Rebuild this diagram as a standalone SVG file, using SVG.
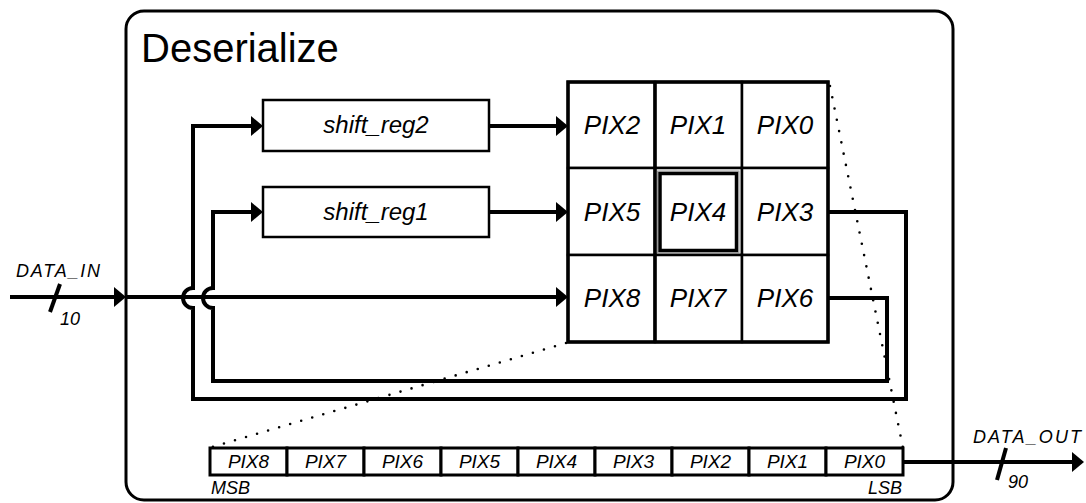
<svg xmlns="http://www.w3.org/2000/svg" width="1086" height="503" viewBox="0 0 1086 503">
  <defs>
    <marker id="arrow" markerUnits="userSpaceOnUse" markerWidth="12" markerHeight="20" refX="6" refY="10" orient="auto">
      <path d="M0,0 L12,10 L0,20 z" fill="#000"/>
    </marker>
    <style>
      text { font-family: "Liberation Sans", Arial, sans-serif; fill: #000; }
      .lbl { font-style: italic; }
      .cell { fill: #fff; stroke: #000; stroke-width: 2.5; }
      .bit { fill: #fff; stroke: #000; stroke-width: 3; }
      .box { fill: #fff; stroke: #000; stroke-width: 2.5; }
      .wire { fill: none; stroke: #000; stroke-width: 4; }
      .dots { fill: none; stroke: #000; stroke-width: 2.6; stroke-linecap: round; stroke-dasharray: 0 11.5; }
      .g26 { font-size: 26px; }
      .g24 { font-size: 24px; }
      .g19 { font-size: 19px; }
      .g18 { font-size: 18px; }
    </style>
  </defs>
  <rect width="1086" height="503" fill="#fff"/>

  <!-- module outline -->
  <g id="deserialize">
    <rect x="126" y="11" width="827" height="489" rx="18" ry="18" fill="none" stroke="#000" stroke-width="3"/>
    <text x="141" y="62" font-size="40">Deserialize</text>
  </g>

  <!-- connectors -->
  <g id="connectors">
    <!-- serial input -->
    <path class="wire" d="M10,297 H120" marker-end="url(#arrow)"/>
    <path d="M50,312 L60,284" stroke="#000" stroke-width="4"/>
    <path class="wire" d="M126,297 H562" marker-end="url(#arrow)"/>
    <!-- feedback into shift_reg2 (from PIX3) -->
    <path class="wire" d="M828,212 H906 V399 H193 V308 A10,10 0 0 1 193,288 V126 H257" marker-end="url(#arrow)"/>
    <!-- feedback into shift_reg1 (from PIX6) -->
    <path class="wire" d="M828,298 H887 V381 H213 V308 A10,10 0 0 1 213,288 V212 H257" marker-end="url(#arrow)"/>
    <!-- register outputs into the window -->
    <path class="wire" d="M489,126 H562" marker-end="url(#arrow)"/>
    <path class="wire" d="M489,212 H562" marker-end="url(#arrow)"/>
    <!-- parallel output -->
    <path class="wire" d="M903,462 H1078" marker-end="url(#arrow)"/>
    <path d="M997,480 L1006,448" stroke="#000" stroke-width="4"/>
    <!-- expansion guides -->
    <path class="dots" d="M830,86 L903,448"/>
    <path class="dots" d="M566,343 L212,447"/>
  </g>

  <!-- line shift registers -->
  <g id="shift_reg2">
    <rect class="box" x="263" y="100" width="226" height="51"/>
    <text class="lbl g24" x="376" y="133" text-anchor="middle">shift_reg2</text>
  </g>
  <g id="shift_reg1">
    <rect class="box" x="263" y="187" width="226" height="50"/>
    <text class="lbl g24" x="376" y="220" text-anchor="middle">shift_reg1</text>
  </g>

  <!-- 3x3 pixel window -->
  <g id="window">
    <g id="pix2"><rect class="cell" x="568" y="82" width="87" height="86"/><text class="lbl g26" x="612" y="134" text-anchor="middle">PIX2</text></g>
    <g id="pix1"><rect class="cell" x="655" y="82" width="87" height="86"/><text class="lbl g26" x="698" y="134" text-anchor="middle">PIX1</text></g>
    <g id="pix0"><rect class="cell" x="742" y="82" width="86" height="86"/><text class="lbl g26" x="785" y="134" text-anchor="middle">PIX0</text></g>
    <g id="pix5"><rect class="cell" x="568" y="168" width="87" height="87"/><text class="lbl g26" x="612" y="221" text-anchor="middle">PIX5</text></g>
    <g id="pix4">
      <rect class="cell" x="655" y="168" width="87" height="87"/>
      <rect x="657.5" y="171" width="81.5" height="82" fill="none" stroke="#999" stroke-width="1"/>
      <rect x="660" y="173.5" width="76.5" height="77" fill="none" stroke="#000" stroke-width="3.5"/>
      <text class="lbl g26" x="698" y="221" text-anchor="middle">PIX4</text>
    </g>
    <g id="pix3"><rect class="cell" x="742" y="168" width="86" height="87"/><text class="lbl g26" x="785" y="221" text-anchor="middle">PIX3</text></g>
    <g id="pix8"><rect class="cell" x="568" y="255" width="87" height="87"/><text class="lbl g26" x="612" y="307" text-anchor="middle">PIX8</text></g>
    <g id="pix7"><rect class="cell" x="655" y="255" width="87" height="87"/><text class="lbl g26" x="698" y="307" text-anchor="middle">PIX7</text></g>
    <g id="pix6"><rect class="cell" x="742" y="255" width="86" height="87"/><text class="lbl g26" x="785" y="307" text-anchor="middle">PIX6</text></g>
    <rect x="568" y="82" width="260" height="260" fill="none" stroke="#000" stroke-width="3.5"/>
    <line x1="655" y1="82" x2="655" y2="342" stroke="#000" stroke-width="3.5"/>
  </g>

  <!-- output word -->
  <g id="out_word">
    <rect class="bit" x="210" y="448" width="77" height="27"/><text class="lbl g19" x="248.5" y="468" text-anchor="middle">PIX8</text>
    <rect class="bit" x="287" y="448" width="77" height="27"/><text class="lbl g19" x="325.5" y="468" text-anchor="middle">PIX7</text>
    <rect class="bit" x="364" y="448" width="77" height="27"/><text class="lbl g19" x="402.5" y="468" text-anchor="middle">PIX6</text>
    <rect class="bit" x="441" y="448" width="77" height="27"/><text class="lbl g19" x="479.5" y="468" text-anchor="middle">PIX5</text>
    <rect class="bit" x="518" y="448" width="77" height="27"/><text class="lbl g19" x="556.5" y="468" text-anchor="middle">PIX4</text>
    <rect class="bit" x="595" y="448" width="77" height="27"/><text class="lbl g19" x="633.5" y="468" text-anchor="middle">PIX3</text>
    <rect class="bit" x="672" y="448" width="77" height="27"/><text class="lbl g19" x="710.5" y="468" text-anchor="middle">PIX2</text>
    <rect class="bit" x="749" y="448" width="77" height="27"/><text class="lbl g19" x="787.5" y="468" text-anchor="middle">PIX1</text>
    <rect class="bit" x="826" y="448" width="77" height="27"/><text class="lbl g19" x="864.5" y="468" text-anchor="middle">PIX0</text>
    <text class="lbl g18" x="211" y="494">MSB</text>
    <text class="lbl g18" x="902" y="494" text-anchor="end">LSB</text>
  </g>

  <!-- port labels -->
  <g id="data_in">
    <text class="lbl g18" x="16" y="277" textLength="84" lengthAdjust="spacing">DATA_IN</text>
    <text class="lbl g18" x="60" y="325">10</text>
  </g>
  <g id="data_out">
    <text class="lbl g18" x="973" y="443" textLength="108" lengthAdjust="spacing">DATA_OUT</text>
    <text class="lbl g18" x="1008" y="488">90</text>
  </g>
</svg>
